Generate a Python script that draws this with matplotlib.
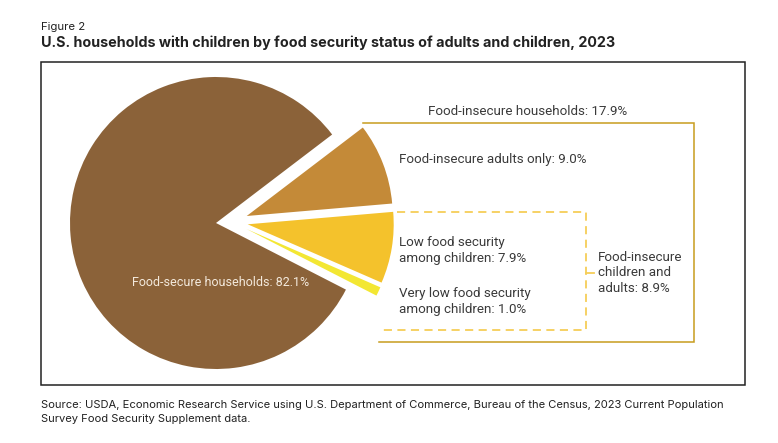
# U.S. households with children by food security status, 2023
import matplotlib
matplotlib.use('Agg')
import matplotlib.pyplot as plt
from matplotlib.patches import Rectangle

# Data
labels = ['Food-secure households', 'Very low food security', 'Low food security', 'Food-insecure adults only']
shares = [82.1, 1.0, 7.9, 9.0]
colors = ['#8B6239', '#F3E733', '#F4C22C', '#C48A38']

H = 443
gold = '#C79C1E'
gold_light = '#F6CE58'
ink = '#3A3A3A'

plt.rcParams['font.family'] = ['Roboto', 'DejaVu Sans']

fig = plt.figure(figsize=(7.78, 4.43), dpi=100, facecolor='white')
ax = fig.add_axes([0, 0, 1, 1])

wedges, _ = ax.pie(shares, colors=colors, startangle=37.3, radius=146,
                   center=(216, H - 223), wedgeprops={'linewidth': 0})

# pull the insecure slices out by hand, explode can't do the different offsets
centers = [(216, 223), (246.5, 229), (247.7, 224.3), (246.7, 216)]
for w, (cx, cy) in zip(wedges, centers):
    w.set_center((cx, H - cy))

ax.set_xlim(0, 778)
ax.set_ylim(0, H)
ax.axis('off')

# outer frame
ax.add_patch(Rectangle((41, H - 385), 704, 323, fill=False, edgecolor='#222222', linewidth=1.1))

# brackets
ax.plot([363, 694, 694, 379], [H - 123, H - 123, H - 342, H - 342], color=gold, linewidth=1.1,
        solid_joinstyle='miter')
ax.plot([397, 586, 586, 379], [H - 212, H - 212, H - 330, H - 330], color=gold_light, linewidth=1.3,
        linestyle=(0, (4.5, 3)), dash_joinstyle='miter')
ax.plot([586, 594], [H - 272.5, H - 272.5], color=gold_light, linewidth=1.3)


def label(x, y, s, color=ink, size=9.65, **kw):
    ax.text(x, H - y, s, color=color, fontsize=size, va='center', ha='left', linespacing=1.27, **kw)


# headings
ax.text(41, H - 27, 'Figure 2', fontsize=8.2, color='#222222', va='center', family=['Inter', 'DejaVu Sans'])
ax.text(41, H - 42.5, 'U.S. households with children by food security status of adults and children, 2023',
        fontsize=10.3, fontweight='bold', color='#222222', va='center', family=['Inter', 'DejaVu Sans'])

# slice labels
label(428, 111, 'Food-insecure households: 17.9%')
label(399, 159.5, 'Food-insecure adults only: 9.0%')
label(399, 250.5, 'Low food security\namong children: 7.9%')
label(399, 301.5, 'Very low food security\namong children: 1.0%')
label(598, 273, 'Food-insecure\nchildren and\nadults: 8.9%')
label(132, 283, 'Food-secure households: 82.1%', color='#F3E9DC', size=9.0)

# source note
ax.text(41, H - 411.5,
        'Source: USDA, Economic Research Service using U.S. Department of Commerce, Bureau of the Census, 2023 Current Population\n'
        'Survey Food Security Supplement data.',
        fontsize=8.05, color='#222222', va='center', linespacing=1.5, family=['Inter', 'DejaVu Sans'])

fig.savefig('out.png', dpi=100)
